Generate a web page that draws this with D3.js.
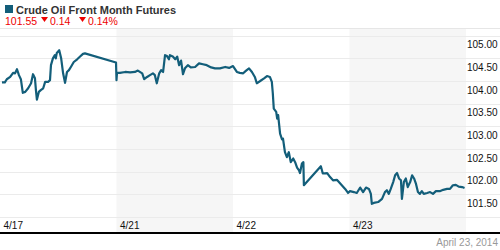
<!DOCTYPE html>
<html>
<head>
<meta charset="utf-8">
<script src="https://cdn.jsdelivr.net/npm/d3@7"></script>
<style>
  body { margin: 0; background: #fff; }
  svg { display: block; font-family: "Liberation Sans", Arial, sans-serif; }
</style>
</head>
<body>
<svg id="drawspace" width="500" height="250"></svg>
<script>
let drawSpace = d3.select("#drawspace");

// hours since 4/17 open (24 per trading day, 4/18 closed)
let hours = [0.4, 1.0, 1.4, 2.1, 2.7, 3.1, 3.5, 3.9, 4.3, 4.7, 5.2, 5.8, 6.4, 6.8, 7.2, 7.4, 7.6, 8.0, 8.4, 8.9,
  9.3, 9.9, 10.3, 10.5, 10.9, 11.3, 11.5, 11.7, 12.2, 12.6, 13.0, 13.4, 13.8, 14.2, 14.6, 15.2, 15.9, 16.5, 17.1, 17.5,
  23.9, 24.0, 24.1, 24.7, 25.8, 26.8, 27.8, 28.4, 29.3, 29.7, 30.3, 30.9, 31.5, 31.9, 32.3, 32.8, 33.2, 33.6, 34.0, 34.4,
  34.8, 35.0, 35.6, 36.1, 36.5, 36.9, 37.3, 37.7, 38.1, 38.7, 39.3, 40.2, 41.0, 41.8, 42.6, 43.5, 44.3, 45.3, 46.4, 47.2,
  48.0, 48.8, 49.4, 50.1, 50.7, 51.3, 51.9, 52.5, 52.9, 53.6, 54.4, 55.0, 55.6, 56.0, 56.2, 56.4, 56.9, 57.1, 57.3, 57.7,
  58.1, 58.3, 58.7, 59.1, 59.5, 59.9, 60.4, 60.8, 61.2, 61.6, 61.8, 62.2, 62.5, 62.6, 66.1, 66.5, 67.4, 68.0, 68.6, 69.4,
  70.0, 71.1, 71.7, 72.1, 72.9, 73.5, 74.2, 74.8, 75.4, 76.0, 76.4, 76.6, 77.0, 77.9, 78.7, 79.3, 79.7, 80.1, 80.5, 81.0,
  81.4, 81.8, 82.2, 82.6, 82.8, 83.2, 83.6, 84.0, 84.5, 84.9, 85.3, 85.7, 86.1, 86.5, 86.9, 87.3, 88.0, 88.6, 89.2, 89.8,
  90.6, 91.3, 92.1, 92.7, 93.3, 93.9, 94.5, 95.2, 95.7];

let prices = [103.97, 103.97, 104.04, 104.09, 104.18, 104.17, 104.26, 104.13, 104.04, 103.74, 103.76, 103.84, 103.95, 104.15, 104.06, 103.80, 103.59, 103.76, 103.80, 103.84,
  103.98, 103.98, 104.02, 104.35, 104.50, 104.57, 104.50, 104.62, 104.68, 104.50, 104.17, 103.96, 104.20, 104.24, 104.31, 104.42, 104.48, 104.54, 104.60, 104.61,
  104.41, 104.02, 104.18, 104.18, 104.20, 104.19, 104.20, 104.23, 104.17, 104.04, 104.09, 104.13, 104.17, 104.13, 103.95, 104.17, 104.24, 104.20, 104.57, 104.55,
  104.48, 104.57, 104.54, 104.48, 104.54, 104.35, 104.45, 104.15, 104.28, 104.35, 104.30, 104.31, 104.39, 104.37, 104.35, 104.30, 104.28, 104.28, 104.31, 104.29,
  104.33, 104.20, 104.18, 104.17, 104.23, 104.28, 104.20, 104.09, 103.95, 104.00, 104.06, 104.11, 104.09, 103.98, 103.73, 103.39, 103.32, 103.17, 103.25, 102.84,
  102.71, 102.73, 102.43, 102.32, 102.43, 102.21, 102.29, 102.21, 102.09, 102.03, 101.97, 102.18, 102.21, 101.70, 102.12, 101.96, 101.97, 101.88, 101.81, 101.82,
  101.75, 101.62, 101.53, 101.57, 101.55, 101.53, 101.65, 101.55, 101.65, 101.62, 101.51, 101.29, 101.31, 101.33, 101.40, 101.55, 101.59, 101.51, 101.62, 101.77,
  101.92, 101.97, 101.85, 101.81, 101.40, 101.77, 101.85, 101.66, 101.77, 101.92, 101.85, 101.73, 101.55, 101.51, 101.57, 101.51, 101.53, 101.55, 101.51, 101.57,
  101.57, 101.60, 101.62, 101.62, 101.70, 101.71, 101.67, 101.66, 101.64];

let dayLabels = ["4/17", "4/21", "4/22", "4/23"];
let dayStarts = [0, 24, 48, 72];
let shadedDays = [1, 3];
let yTicks = [105, 104.5, 104, 103.5, 103, 102.5, 102, 101.5];
let yGrid = [105, 104.5, 104, 103.5, 103, 102.5, 102, 101.5, 101];

let lastPrice = "101.55", change = "0.14", changePct = "0.14%";
let title = "Crude Oil Front Month Futures";
let dateText = "April 23, 2014";

let W = 500, plotRight = 466, plotTop = 29, axisLine = 233;

let x = d3.scaleLinear().domain([0, 96]).range([0, plotRight]);
let y = d3.scaleLinear().domain([101, 105]).range([217, 35.7]);

// shaded day bands
drawSpace.selectAll("rect.band")
  .data(shadedDays)
  .enter()
  .append("rect")
  .attr("class", "band")
  .attr("x", d => x(dayStarts[d]))
  .attr("y", plotTop)
  .attr("width", d => x(dayStarts[d] + 24) - x(dayStarts[d]))
  .attr("height", axisLine - plotTop)
  .attr("fill", "#f6f6f6");

// gridlines
drawSpace.selectAll("line.grid")
  .data(yGrid)
  .enter()
  .append("line")
  .attr("x1", 0).attr("x2", W)
  .attr("y1", d => Math.round(y(d)) + 0.5)
  .attr("y2", d => Math.round(y(d)) + 0.5)
  .attr("stroke", "#ebebeb");

// right axis labels
let yAxis = drawSpace.append("g")
  .attr("transform", "translate(" + plotRight + ",0)")
  .call(d3.axisRight(y).tickValues(yTicks).tickSize(0).tickFormat(d3.format(".2f")));
yAxis.select(".domain").remove();
yAxis.selectAll("text")
  .attr("x", 1)
  .attr("dy", "1.2em")
  .attr("fill", "#111")
  .style("font-size", "10px");

// x axis labels
let xAxis = drawSpace.append("g")
  .attr("transform", "translate(0,219)")
  .call(d3.axisBottom(x).tickValues(dayStarts).tickSize(0).tickFormat((d, i) => dayLabels[i]));
xAxis.select(".domain").remove();
xAxis.selectAll("text")
  .attr("text-anchor", "start")
  .attr("x", 3)
  .attr("y", 3)
  .attr("fill", "#111")
  .style("font-size", "10px");

// price line
let pts = hours.map((h, i) => [h, prices[i]]);
let line = d3.line().x(d => x(d[0])).y(d => y(d[1]));
drawSpace.append("path")
  .attr("d", line(pts))
  .attr("fill", "none")
  .attr("stroke", "#135e7a")
  .attr("stroke-width", 2.2)
  .attr("stroke-linejoin", "round");

// bottom black rule
drawSpace.append("rect")
  .attr("x", 0).attr("y", axisLine - 1)
  .attr("width", W).attr("height", 2)
  .attr("fill", "#000");

drawSpace.append("text")
  .attr("x", 498).attr("y", 246)
  .attr("text-anchor", "end")
  .attr("fill", "#999")
  .style("font-size", "10px")
  .text(dateText);

// header
drawSpace.append("line")
  .attr("x1", 0).attr("x2", W)
  .attr("y1", 28.5).attr("y2", 28.5)
  .attr("stroke", "#e6e6e6");

drawSpace.append("rect")
  .attr("x", 5).attr("y", 5)
  .attr("width", 8).attr("height", 8)
  .attr("fill", "#135e7a");

drawSpace.append("text")
  .attr("x", 16).attr("y", 13.5)
  .attr("fill", "#333")
  .style("font-size", "11px")
  .style("font-weight", "bold")
  .text(title);

let sub = drawSpace.append("g").attr("fill", "#ee0000").style("font-size", "10.5px");
sub.append("text").attr("x", 5).attr("y", 25).text(lastPrice);
let tri = "M0,0 L7,0 L3.5,5 Z";
sub.append("path").attr("d", tri).attr("transform", "translate(41,17)");
sub.append("text").attr("x", 50).attr("y", 25).text(change);
sub.append("path").attr("d", tri).attr("transform", "translate(79,17)");
sub.append("text").attr("x", 88).attr("y", 25).text(changePct);
</script>
</body>
</html>
